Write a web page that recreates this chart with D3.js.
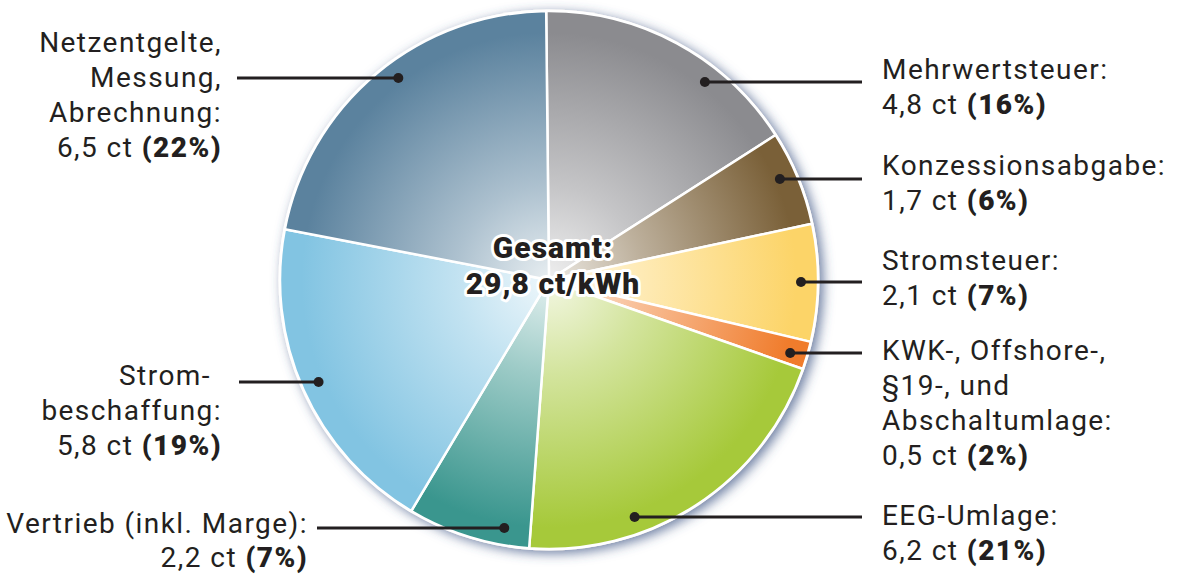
<!DOCTYPE html>
<html>
<head>
  <meta charset="utf-8">
  <title>Strompreis Zusammensetzung</title>
  <style>
    body {
      margin: 0;
      background-color: white;
      font-family: Roboto, "DejaVu Sans", sans-serif;
    }
    .label {
      font-size: 28px;
      fill: #231f20;
      letter-spacing: 1.45px;
    }
    .total {
      font-size: 30px;
      font-weight: 900;
      fill: #231f20;
      letter-spacing: 1px;
      stroke: white;
      stroke-width: 6px;
      paint-order: stroke;
      stroke-linejoin: round;
    }
  </style>
  <script src="https://d3js.org/d3.v7.min.js"></script>
</head>
<body>
  <div id="chart"></div>
  <script>
    // Werte in ct/kWh, im Uhrzeigersinn ab 12 Uhr
    const categories = ["Mehrwertsteuer", "Konzessionsabgabe", "Stromsteuer", "KWK-Umlagen",
                        "EEG-Umlage", "Vertrieb", "Strombeschaffung", "Netzentgelte"];
    const values = [4.8, 1.7, 2.1, 0.5, 6.2, 2.2, 5.8, 6.5];
    const percents = [16, 6, 7, 2, 21, 7, 19, 22];
    const labelLines = [
      ["Mehrwertsteuer:"],
      ["Konzessionsabgabe:"],
      ["Stromsteuer:"],
      ["KWK-, Offshore-,", "§19-, und", "Abschaltumlage:"],
      ["EEG-Umlage:"],
      ["Vertrieb (inkl. Marge):"],
      ["Strom-", "beschaffung:"],
      ["Netzentgelte,", "Messung,", "Abrechnung:"]
    ];
    const colors = ["#8b8b8f", "#7a6038", "#fcd468", "#f07c2c",
                    "#a6c93a", "#3a968e", "#82c4e2", "#5b829e"];
    const totalLines = ["Gesamt:", "29,8 ct/kWh"];

    // Layout
    const width = 1177, height = 574;
    const cx = 549, cy = 280, radius = 269, dotRadius = 252;
    // y of leader line, first text baseline, side
    const labelLayout = [
      {lineY: 82,  textY: 79,  side: "right"},
      {lineY: 179, textY: 175, side: "right"},
      {lineY: 282, textY: 270, side: "right"},
      {lineY: 353, textY: 360, side: "right"},
      {lineY: 517, textY: 525, side: "right"},
      {lineY: 528, textY: 533, side: "left", textX: 308, lineX: 317},
      {lineY: 382, textY: 385, side: "left", textX: 222, lineX: 239},
      {lineY: 78,  textY: 52,  side: "left", textX: 222, lineX: 237}
    ];
    const lineHeight = 35;
    const fmt = v => String(v).replace(".", ",");

    const svg = d3.select("#chart").append("svg")
      .attr("width", width)
      .attr("height", height);

    const defs = svg.append("defs");

    const shadow = defs.append("filter")
      .attr("id", "shadow")
      .attr("x", "-10%").attr("y", "-10%")
      .attr("width", "120%").attr("height", "120%");
    shadow.append("feDropShadow")
      .attr("dx", 4).attr("dy", 3)
      .attr("stdDeviation", 6)
      .attr("flood-color", "#3e5584")
      .attr("flood-opacity", 0.75);

    colors.forEach((c, i) => {
      const g = defs.append("radialGradient")
        .attr("id", "grad" + i)
        .attr("gradientUnits", "userSpaceOnUse")
        .attr("cx", 0).attr("cy", 0).attr("r", radius);
      g.append("stop").attr("offset", "0%").attr("stop-color", d3.interpolateRgb("#ffffff", c)(0.14));
      g.append("stop").attr("offset", "35%").attr("stop-color", d3.interpolateRgb("#ffffff", c)(0.5));
      g.append("stop").attr("offset", "92%").attr("stop-color", c);
    });

    const data = values.map((v, i) => ({name: categories[i], value: v, i}));

    const startAngle = -0.6 * Math.PI / 180;
    const pie = d3.pie()
      .value(d => d.value)
      .sort(null)
      .startAngle(startAngle)
      .endAngle(startAngle + 2 * Math.PI);

    const arc = d3.arc().innerRadius(0).outerRadius(radius);

    const g = svg.append("g")
      .attr("transform", `translate(${cx},${cy})`);

    // Hintergrundkreis mit Schatten und weissem Rand
    g.append("circle")
      .attr("r", radius + 1.5)
      .attr("fill", "white")
      .attr("filter", "url(#shadow)");

    g.selectAll("path.slice")
      .data(pie(data))
      .enter()
      .append("path")
      .attr("class", "slice")
      .attr("d", arc)
      .attr("fill", d => `url(#grad${d.data.i})`)
      .attr("stroke", "white")
      .attr("stroke-width", 2.5)
      .attr("stroke-linejoin", "round");

    // Beschriftungen mit Linien und Punkten
    const labels = svg.append("g");
    labelLayout.forEach((l, i) => {
      const dy = l.lineY - cy;
      const dx = Math.sqrt(dotRadius * dotRadius - dy * dy);
      const dotX = l.side === "right" ? cx + dx : cx - dx;
      const lineEnd = l.side === "right" ? 862 : l.lineX;

      labels.append("line")
        .attr("x1", dotX).attr("y1", l.lineY)
        .attr("x2", lineEnd).attr("y2", l.lineY)
        .attr("stroke", "#231f20")
        .attr("stroke-width", 3);
      labels.append("circle")
        .attr("cx", dotX).attr("cy", l.lineY)
        .attr("r", 5)
        .attr("fill", "#231f20");

      const tx = l.side === "right" ? 882 : l.textX;
      const anchor = l.side === "right" ? "start" : "end";
      const lines = labelLines[i];
      lines.forEach((t, k) => {
        let x = tx;
        if (t === "Strom-") x = tx - 11;
        labels.append("text")
          .attr("class", "label")
          .attr("x", x)
          .attr("y", l.textY + k * lineHeight)
          .attr("text-anchor", anchor)
          .text(t);
      });
      const last = labels.append("text")
        .attr("class", "label")
        .attr("x", tx)
        .attr("y", l.textY + lines.length * (i === 5 ? 34 : lineHeight))
        .attr("text-anchor", anchor);
      last.append("tspan").text(`${fmt(values[i])} ct `);
      last.append("tspan").attr("font-weight", 900).text(`(${percents[i]}%)`);
    });

    // Gesamtsumme in der Mitte
    svg.selectAll("text.total")
      .data(totalLines)
      .enter()
      .append("text")
      .attr("class", "total")
      .attr("x", 553)
      .attr("y", (d, k) => 258 + k * 36)
      .attr("text-anchor", "middle")
      .text(d => d);
  </script>
</body>
</html>
